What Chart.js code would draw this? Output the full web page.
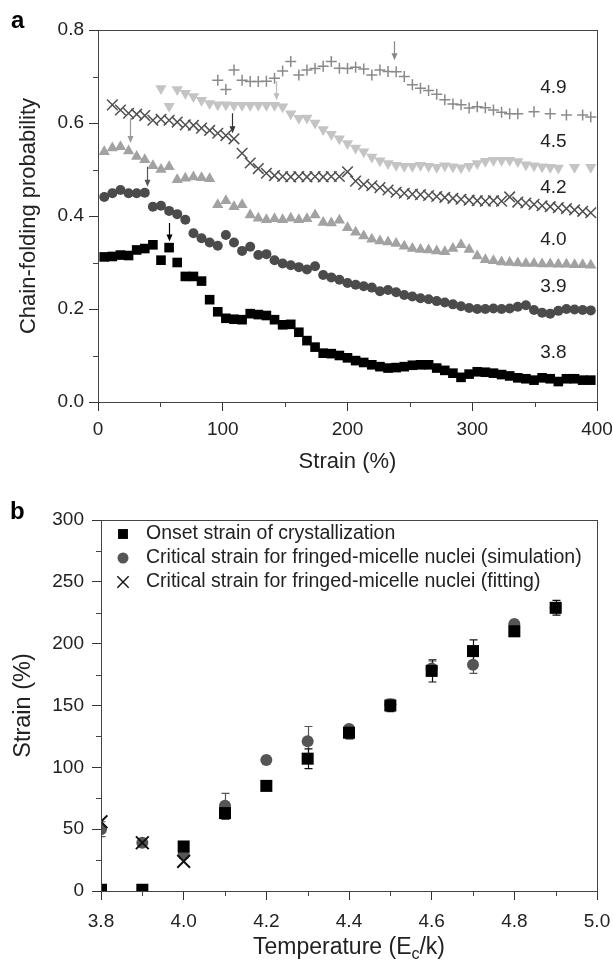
<!DOCTYPE html>
<html>
<head>
<meta charset="utf-8">
<script src="https://cdn.jsdelivr.net/npm/chart.js@4.4.1/dist/chart.umd.min.js"></script>
<style>
  body { margin: 0; background: #fff; }
  #wrap { position: relative; width: 613px; height: 964px; }
  canvas { position: absolute; left: 0; }
  #chartA { top: 0; }
  #chartB { top: 470px; }
</style>
</head>
<body>
<div id="wrap">
  <canvas id="chartA" width="613" height="490"></canvas>
  <canvas id="chartB" width="613" height="494"></canvas>
</div>
<script>
// ---- panel a : chain-folding probability vs strain ----
var strain = [5, 11.5, 18, 24.5, 31, 37.5, 44, 50.5, 57, 63.5, 70, 76.5, 83, 89.5, 96, 102.5, 109, 115.5, 122, 128.5,
  135, 141.5, 148, 154.5, 161, 167.5, 174, 180.5, 187, 193.5, 200, 206.5, 213, 219.5, 226, 232.5, 239, 245.5, 252, 258.5,
  265, 271.5, 278, 284.5, 291, 297.5, 304, 310.5, 317, 323.5, 330, 336.5, 343, 349.5, 356, 362.5, 369, 375.5, 382, 388.5, 395];

var p38 = [0.312,0.313,0.316,0.315,0.327,0.330,0.338,0.305,0.332,0.300,
  0.270,0.270,0.260,0.220,0.194,0.180,0.178,0.177,0.190,0.188,
  0.186,0.177,0.166,0.167,0.150,0.132,0.118,0.105,0.104,0.100,
  0.095,0.089,0.085,0.080,0.076,0.073,0.074,0.076,0.079,0.080,
  0.080,0.073,0.068,0.062,0.053,0.060,0.065,0.064,0.062,0.059,
  0.056,0.052,0.050,0.047,0.052,0.050,0.044,0.050,0.050,0.047,
  0.047];
var p39 = [0.441,0.449,0.456,0.449,0.449,0.450,0.420,0.422,0.411,0.404,
  0.392,0.363,0.352,0.343,0.336,0.359,0.343,0.325,0.334,0.316,
  0.318,0.305,0.298,0.294,0.290,0.285,0.292,0.273,0.268,0.263,
  0.256,0.252,0.249,0.246,0.238,0.241,0.236,0.230,0.227,0.223,
  0.221,0.217,0.214,0.210,0.206,0.202,0.200,0.200,0.201,0.200,
  0.201,0.205,0.208,0.198,0.192,0.190,0.196,0.200,0.199,0.198,
  0.197];
var p40 = [0.538,0.546,0.549,0.540,0.528,0.521,0.508,0.500,0.506,0.478,
  0.481,0.484,0.482,0.480,0.424,0.433,0.420,0.424,0.402,0.395,
  0.392,0.394,0.392,0.395,0.392,0.394,0.402,0.386,0.385,0.391,
  0.375,0.365,0.357,0.350,0.346,0.344,0.341,0.335,0.330,0.328,
  0.327,0.325,0.323,0.330,0.338,0.328,0.314,0.306,0.304,0.301,
  0.300,0.299,0.298,0.298,0.297,0.297,0.296,0.296,0.295,0.295,
  0.294];
var p42 = [null,0.639,0.628,0.621,0.619,0.616,0.606,0.608,0.606,0.602,
  0.596,0.595,0.589,0.584,0.578,0.573,0.566,0.535,0.514,0.502,
  0.492,0.487,0.485,0.484,0.485,0.484,0.485,0.484,0.485,0.485,
  0.495,0.475,0.468,0.465,0.461,0.456,0.451,0.449,0.447,0.446,
  0.444,0.442,0.440,0.438,0.436,0.434,0.433,0.432,0.433,0.432,
  0.441,0.430,0.428,0.425,0.422,0.420,0.418,0.416,0.413,0.410,
  0.407];
var p45 = [null,null,null,null,null,null,null,0.674,0.636,0.672,
  0.664,0.657,0.649,0.642,0.639,0.639,0.638,0.638,0.638,0.638,
  0.638,0.638,0.635,0.620,0.610,0.611,0.600,0.586,0.576,0.566,
  0.556,0.546,0.538,0.527,0.519,0.513,0.509,0.507,0.507,0.509,
  0.507,0.505,0.508,0.506,0.504,0.507,0.513,0.518,0.520,0.520,
  0.520,0.517,0.510,0.508,0.506,0.505,0.503,null,0.505,null,
  0.505];
var p49 = [null,null,null,null,null,null,null,null,null,null,
  null,null,null,null,0.692,0.672,0.714,0.692,0.689,0.689,
  0.690,0.696,0.712,0.732,0.703,0.714,0.717,0.722,0.732,0.718,
  0.717,0.720,0.716,0.703,0.714,0.711,0.710,0.700,0.682,0.675,
  0.670,0.662,0.650,0.641,0.639,0.632,0.635,0.633,0.628,0.623,
  0.620,0.620,null,0.624,null,0.620,null,0.617,null,0.617,
  0.613];

var curveNames = ['3.8', '3.9', '4.0', '4.2', '4.5', '4.9'];
var labelStrain = 365;
var labelY = [0.105, 0.248, 0.348, 0.46, 0.56, 0.675];
// onset arrows
var arrowStrain = [57, 39, 25.6, 107.5, 143, 237.6];
var arrowFrom = [0.385, 0.506, 0.61, 0.621, 0.69, 0.776];
var arrowTo = [0.345, 0.463, 0.557, 0.578, 0.649, 0.735];

// ---- panel b : strain vs temperature ----
var temps = [3.8, 3.9, 4.0, 4.1, 4.2, 4.3, 4.4, 4.5, 4.6, 4.7, 4.8, 4.9];
var onset = [1, 1, 36, 63, 85, 107, 128, 150, 178, 194, 210, 229];
var onsetErr = [0, 0, 2, 5, 2, 8, 5, 5, 9, 9, 3, 6];
var simul = [50, 39, 30, 69, 106, 121, 131, 151, 180, 183, 216, 229];
var simulErr = [6, 3, 3, 10, 2, 12, 3, 3, 6, 7, 2, 4];
var fitTemps = [3.8, 3.9, 4.0];
var fitted = [56, 39, 24];

var FONT = '"Liberation Sans", Arial, sans-serif';
Chart.defaults.font.family = FONT;
Chart.defaults.color = '#222';

function pts(xs, ys) {
  return xs.map(function(x, i) { return {x: x, y: ys[i]}; });
}

// box around the plot + short minor ticks halfway between the major ones
var frameMinor = {
  id: 'frameMinor',
  afterDraw: function(chart) {
    var ctx = chart.ctx, a = chart.chartArea;
    var xs = chart.scales.x, ys = chart.scales.y;
    ctx.save();
    ctx.strokeStyle = '#444';
    ctx.lineWidth = 1;
    ctx.strokeRect(a.left + 0.5, a.top + 0.5, a.right - a.left, a.bottom - a.top);
    ctx.beginPath();
    for (var i = 0; i < xs.ticks.length - 1; i++) {
      var px = Math.round(xs.getPixelForValue((xs.ticks[i].value + xs.ticks[i + 1].value) / 2)) + 0.5;
      ctx.moveTo(px, a.bottom);
      ctx.lineTo(px, a.bottom + 5);
    }
    for (var j = 0; j < ys.ticks.length - 1; j++) {
      var py = Math.round(ys.getPixelForValue((ys.ticks[j].value + ys.ticks[j + 1].value) / 2)) + 0.5;
      ctx.moveTo(a.left, py);
      ctx.lineTo(a.left - 5, py);
    }
    ctx.stroke();
    ctx.restore();
  }
};

function axisOpts(min, max, step, digits, tickPad, title, titleSize, titlePad) {
  return {
    type: 'linear', min: min, max: max,
    ticks: {
      stepSize: step, padding: tickPad, maxRotation: 0, color: '#222',
      font: {size: 19},
      callback: function(v) { return Number(v).toFixed(digits); }
    },
    grid: {drawOnChartArea: false, tickLength: 9, tickColor: '#333', tickWidth: 1},
    border: {color: '#333', width: 1},
    title: {display: !!title, text: title, color: '#222', font: {size: titleSize}, padding: titlePad}
  };
}

// fixed axis box sizes so the plot areas land where the figure has them
function fixX(h) {
  return function(s) { s.height = h; s.paddingLeft = 0; s.paddingRight = 0; };
}
function fixY(w) {
  return function(s) { s.width = w; s.paddingTop = 0; s.paddingBottom = 0; };
}

// ---- chart a ----
var annotA = {
  id: 'annotA',
  afterDraw: function(chart) {
    var ctx = chart.ctx, xs = chart.scales.x, ys = chart.scales.y;
    var arrowCol = ['#000', '#555', '#999', '#333', '#bdbdbd', '#888'];
    ctx.save();
    ctx.font = '19px ' + FONT;
    ctx.fillStyle = '#222';
    ctx.textAlign = 'center';
    ctx.textBaseline = 'middle';
    curveNames.forEach(function(n, i) {
      ctx.fillText(n, xs.getPixelForValue(labelStrain), ys.getPixelForValue(labelY[i]));
    });
    arrowStrain.forEach(function(s, i) {
      var x = Math.round(xs.getPixelForValue(s)) + 0.5;
      var y0 = ys.getPixelForValue(arrowFrom[i]), y1 = ys.getPixelForValue(arrowTo[i]);
      ctx.strokeStyle = arrowCol[i];
      ctx.fillStyle = arrowCol[i];
      ctx.lineWidth = 1.2;
      ctx.beginPath();
      ctx.moveTo(x, y0);
      ctx.lineTo(x, y1 - 5);
      ctx.stroke();
      ctx.beginPath();
      ctx.moveTo(x - 3, y1 - 7);
      ctx.lineTo(x + 3, y1 - 7);
      ctx.lineTo(x, y1);
      ctx.closePath();
      ctx.fill();
    });
    ctx.fillStyle = '#000';
    ctx.textAlign = 'left';
    ctx.textBaseline = 'alphabetic';
    ctx.font = 'bold 24px ' + FONT;
    ctx.fillText('a', 11, 28);
    ctx.restore();
  }
};

var xA = axisOpts(0, 400, 100, 0, 7, 'Strain (%)', 22, {top: 0, bottom: 15});
xA.afterFit = fixX(88);
var yA = axisOpts(0, 0.8, 0.2, 1, 5, 'Chain-folding probability', 22, {top: 16, bottom: 0});
yA.afterFit = fixY(98);

new Chart(document.getElementById('chartA'), {
  type: 'scatter',
  data: {
    datasets: [
      {label: '3.8', data: pts(strain, p38), pointStyle: 'rect', pointRadius: 6.8,
        backgroundColor: '#000', borderColor: '#000', borderWidth: 0},
      {label: '3.9', data: pts(strain, p39), pointStyle: 'circle', pointRadius: 5,
        backgroundColor: '#4b4b4b', borderColor: '#4b4b4b', borderWidth: 0},
      {label: '4.0', data: pts(strain, p40), pointStyle: 'triangle', pointRadius: 6.5,
        backgroundColor: '#a2a2a2', borderColor: '#a2a2a2', borderWidth: 0},
      {label: '4.2', data: pts(strain, p42), pointStyle: 'crossRot', pointRadius: 7.5,
        backgroundColor: '#505050', borderColor: '#505050', borderWidth: 1.5},
      {label: '4.5', data: pts(strain, p45), pointStyle: 'triangle', rotation: 180, pointRadius: 6.5,
        backgroundColor: '#c4c4c4', borderColor: '#c4c4c4', borderWidth: 0},
      {label: '4.9', data: pts(strain, p49), pointStyle: 'cross', pointRadius: 5.5,
        backgroundColor: '#8a8a8a', borderColor: '#8a8a8a', borderWidth: 1.5}
    ]
  },
  options: {
    responsive: false, animation: false,
    clip: 0,
    layout: {padding: {top: 30, right: 16, left: 0, bottom: 0}},
    plugins: {legend: {display: false}, tooltip: {enabled: false}},
    scales: {x: xA, y: yA}
  },
  plugins: [frameMinor, annotA]
});

// ---- chart b ----
var extrasB = {
  id: 'extrasB',
  beforeDatasetsDraw: function(chart) {
    var ctx = chart.ctx, xs = chart.scales.x, ys = chart.scales.y, a = chart.chartArea;
    ctx.save();
    ctx.beginPath();
    ctx.rect(a.left, a.top, a.right - a.left, a.bottom - a.top);
    ctx.clip();
    [[simul, simulErr, '#555'], [onset, onsetErr, '#111']].forEach(function(s) {
      ctx.strokeStyle = s[2];
      ctx.lineWidth = 1.2;
      temps.forEach(function(t, i) {
        if (!s[1][i]) return;
        var x = Math.round(xs.getPixelForValue(t)) + 0.5;
        var top = ys.getPixelForValue(s[0][i] + s[1][i]);
        var bot = ys.getPixelForValue(s[0][i] - s[1][i]);
        ctx.beginPath();
        ctx.moveTo(x, top); ctx.lineTo(x, bot);
        ctx.moveTo(x - 4, top); ctx.lineTo(x + 4, top);
        ctx.moveTo(x - 4, bot); ctx.lineTo(x + 4, bot);
        ctx.stroke();
      });
    });
    ctx.restore();
  },
  afterDraw: function(chart) {
    var ctx = chart.ctx, a = chart.chartArea;
    ctx.save();
    // legend
    chart.data.datasets.forEach(function(d, i) {
      var y = a.top + 14 + i * 24;
      ctx.fillStyle = d.backgroundColor;
      ctx.strokeStyle = d.borderColor;
      ctx.lineWidth = d.legendLine;
      Chart.helpers.drawPoint(ctx, {pointStyle: d.pointStyle, radius: d.legendRadius,
        rotation: 0, borderWidth: d.legendLine}, a.left + 22, y);
      ctx.fillStyle = '#222';
      ctx.font = '19.5px ' + FONT;
      ctx.textAlign = 'left';
      ctx.textBaseline = 'middle';
      ctx.fillText(d.label, a.left + 45, y);
    });
    // x title with subscript
    var cx = (a.left + a.right) / 2, cy = 478;
    var big = '23px ' + FONT, small = '16px ' + FONT;
    ctx.font = big;
    var w1 = ctx.measureText('Temperature (E').width, w3 = ctx.measureText('/k)').width;
    ctx.font = small;
    var w2 = ctx.measureText('c').width;
    var x0 = cx - (w1 + w2 + w3) / 2;
    ctx.fillStyle = '#222';
    ctx.textBaseline = 'middle';
    ctx.font = big;
    ctx.fillText('Temperature (E', x0, cy);
    ctx.font = small;
    ctx.fillText('c', x0 + w1, cy + 7);
    ctx.font = big;
    ctx.fillText('/k)', x0 + w1 + w2, cy);
    ctx.fillStyle = '#000';
    ctx.textBaseline = 'alphabetic';
    ctx.font = 'bold 24px ' + FONT;
    ctx.fillText('b', 10, 49);
    ctx.restore();
  }
};

var xB = axisOpts(3.8, 5.0, 0.2, 1, 10, '', 22, 0);
xB.afterFit = fixX(73);
var yB = axisOpts(0, 300, 50, 0, 8, 'Strain (%)', 23.5, {top: 9, bottom: 0});
yB.afterFit = fixY(101);

new Chart(document.getElementById('chartB'), {
  type: 'scatter',
  data: {
    datasets: [
      {label: 'Onset strain of crystallization', data: pts(temps, onset), order: 0,
        pointStyle: 'rect', pointRadius: 8.5, backgroundColor: '#000', borderColor: '#000', borderWidth: 0,
        legendRadius: 7, legendLine: 0},
      {label: 'Critical strain for fringed-micelle nuclei (simulation)', data: pts(temps, simul), order: 1,
        pointStyle: 'circle', pointRadius: 6, backgroundColor: '#555', borderColor: '#555', borderWidth: 0,
        legendRadius: 5.5, legendLine: 0},
      {label: 'Critical strain for fringed-micelle nuclei (fitting)', data: pts(fitTemps, fitted), order: 0,
        pointStyle: 'crossRot', pointRadius: 9, backgroundColor: '#111', borderColor: '#111', borderWidth: 2,
        legendRadius: 8, legendLine: 1.4}
    ]
  },
  options: {
    responsive: false, animation: false,
    clip: 0,
    layout: {padding: {top: 50, right: 16, left: 0, bottom: 0}},
    plugins: {legend: {display: false}, tooltip: {enabled: false}},
    scales: {x: xB, y: yB}
  },
  plugins: [frameMinor, extrasB]
});
</script>
</body>
</html>
